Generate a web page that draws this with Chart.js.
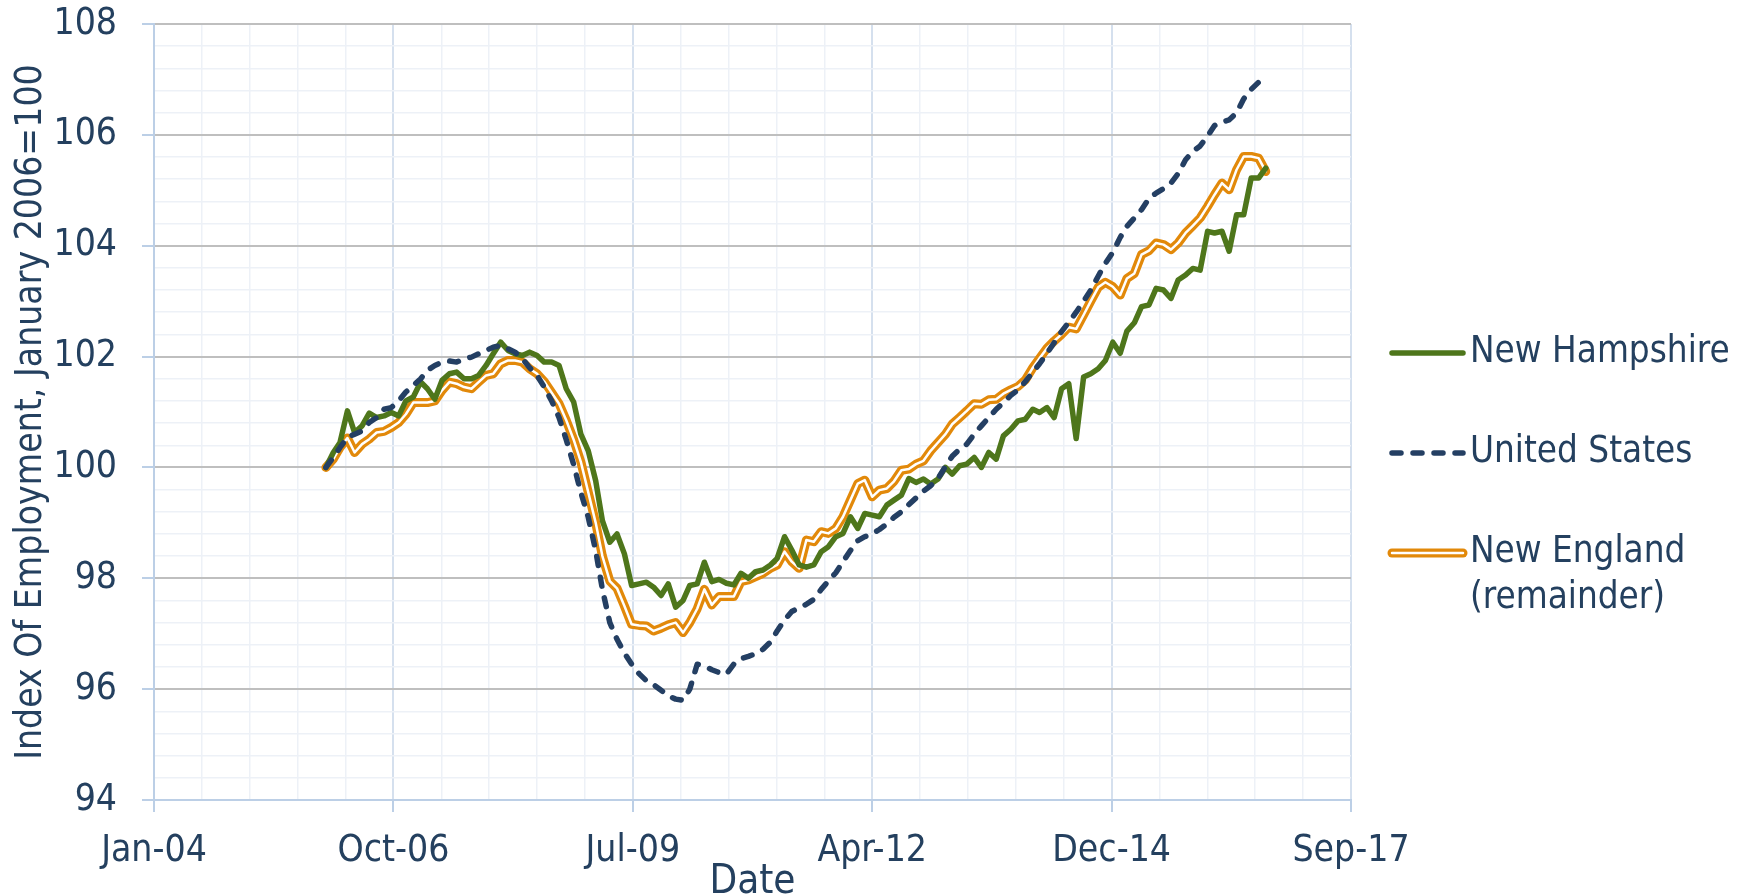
<!DOCTYPE html>
<html>
<head>
<meta charset="utf-8">
<title>Index of Employment</title>
<script src="https://cdn.jsdelivr.net/npm/chart.js@4.4.1/dist/chart.umd.min.js"></script>
<style>
  html, body { margin: 0; padding: 0; background: #fff; }
  #wrap { width: 1746px; height: 895px; position: relative; }
</style>
</head>
<body>
<div id="wrap"><canvas id="employment"></canvas></div>
<script>
// monthly index values, first point is Jan 2006 (=100)
const firstMonth = { year: 2006, month: 0 };

const newHampshire = [
  100.00, 100.27, 100.45, 101.02, 100.63, 100.75, 100.98, 100.90, 100.93, 100.99, 100.93, 101.20,
  101.27, 101.54, 101.42, 101.23, 101.57, 101.69, 101.72, 101.60, 101.60, 101.66, 101.84, 102.05,
  102.26, 102.11, 102.05, 102.02, 102.08, 102.02, 101.90, 101.90, 101.84, 101.42, 101.18, 100.60,
  100.30, 99.76, 99.04, 98.65, 98.80, 98.44, 97.87, 97.90, 97.93, 97.84, 97.69, 97.90,
  97.48, 97.60, 97.87, 97.90, 98.29, 97.94, 97.98, 97.91, 97.88, 98.09, 98.00, 98.12,
  98.15, 98.24, 98.36, 98.75, 98.51, 98.24, 98.20, 98.24, 98.48, 98.57, 98.75, 98.81,
  99.11, 98.90, 99.17, 99.14, 99.11, 99.32, 99.41, 99.50, 99.80, 99.73, 99.79, 99.70,
  99.79, 100.00, 99.88, 100.03, 100.06, 100.18, 100.00, 100.27, 100.15, 100.57, 100.69, 100.84,
  100.87, 101.05, 100.99, 101.08, 100.90, 101.42, 101.51, 100.52, 101.63, 101.69, 101.78, 101.93,
  102.26, 102.06, 102.46, 102.61, 102.90, 102.93, 103.23, 103.20, 103.05, 103.38, 103.47, 103.59,
  103.56, 104.26, 104.23, 104.26, 103.90, 104.56, 104.56, 105.22, 105.22, 105.40
];

const unitedStates = [
  100.00, 100.18, 100.36, 100.54, 100.60, 100.66, 100.81, 100.90, 101.05, 101.08, 101.20, 101.36,
  101.48, 101.60, 101.75, 101.84, 101.90, 101.92, 101.90, 101.96, 101.99, 102.05, 102.11, 102.17,
  102.20, 102.14, 102.08, 101.96, 101.80, 101.66, 101.45, 101.20, 100.90, 100.50, 100.05, 99.55,
  99.10, 98.50, 97.80, 97.20, 96.90, 96.65, 96.45, 96.28, 96.15, 96.08, 95.98, 95.88,
  95.82, 95.80, 96.00, 96.45, 96.42, 96.35, 96.30, 96.27, 96.45, 96.55, 96.59, 96.64,
  96.72, 96.85, 97.05, 97.25, 97.40, 97.47, 97.53, 97.62, 97.80, 97.95, 98.10, 98.30,
  98.50, 98.68, 98.75, 98.80, 98.88, 98.98, 99.10, 99.20, 99.33, 99.45, 99.57, 99.67,
  99.80, 100.02, 100.20, 100.33, 100.42, 100.60, 100.75, 100.90, 101.05, 101.17, 101.30, 101.40,
  101.55, 101.72, 101.87, 102.06, 102.25, 102.45, 102.62, 102.80, 103.00, 103.20, 103.45, 103.68,
  103.88, 104.15, 104.35, 104.50, 104.65, 104.85, 104.95, 105.03, 105.13, 105.30, 105.55, 105.70,
  105.80, 105.98, 106.17, 106.23, 106.27, 106.40, 106.65, 106.82, 106.95, 107.03
];

const newEngland = [
  100.00, 100.15, 100.36, 100.53, 100.27, 100.42, 100.51, 100.63, 100.65, 100.72, 100.81, 100.96,
  101.17, 101.17, 101.17, 101.20, 101.39, 101.54, 101.51, 101.45, 101.42, 101.54, 101.66, 101.69,
  101.87, 101.93, 101.93, 101.90, 101.78, 101.69, 101.55, 101.35, 101.15, 100.85, 100.50, 100.10,
  99.55, 99.00, 98.40, 97.95, 97.82, 97.50, 97.17, 97.15, 97.14, 97.05, 97.10, 97.16,
  97.20, 97.02, 97.20, 97.45, 97.80, 97.52, 97.67, 97.67, 97.67, 97.94, 97.97, 98.03,
  98.09, 98.18, 98.24, 98.48, 98.30, 98.18, 98.69, 98.66, 98.84, 98.81, 98.90, 99.11,
  99.41, 99.71, 99.77, 99.47, 99.59, 99.62, 99.75, 99.95, 99.97, 100.06, 100.12, 100.30,
  100.45, 100.60, 100.78, 100.90, 101.02, 101.15, 101.14, 101.22, 101.23, 101.33, 101.40, 101.46,
  101.58, 101.80, 101.97, 102.15, 102.28, 102.40, 102.53, 102.50, 102.75, 103.00, 103.25, 103.34,
  103.26, 103.11, 103.41, 103.50, 103.84, 103.91, 104.05, 104.02, 103.93, 104.05, 104.23, 104.36,
  104.50, 104.71, 104.92, 105.13, 105.01, 105.37, 105.61, 105.61, 105.58, 105.34
];

const seriesNames = ['New Hampshire', 'United States', ['New England', '(remainder)']];

// axes are Excel date serials, like the original workbook
const xMin = 38000, xMax = 43000, xMajor = 1000, xMinor = 200;
const yMin = 94, yMax = 108, yMajor = 2, yMinor = 0.4;

const textColor = '#24405F';
const axisColor = '#BCCFE6';
const fontFamily = "'DejaVu Sans Condensed', 'DejaVu Sans', sans-serif";
const monthNames = ['Jan','Feb','Mar','Apr','May','Jun','Jul','Aug','Sep','Oct','Nov','Dec'];
const excelEpoch = Date.UTC(1899, 11, 30);

const monthSerial = (i) => (Date.UTC(firstMonth.year, firstMonth.month + i, 1) - excelEpoch) / 864e5;
const toPoints = (values) => values.map((v, i) => ({ x: monthSerial(i), y: v }));
const serialLabel = (v) => {
    const d = new Date(excelEpoch + v * 864e5);
    return monthNames[d.getUTCMonth()] + '-' + String(d.getUTCFullYear()).slice(2);
};

let xTicks = [];
for (let v = xMin; v <= xMax; v += xMinor) xTicks.push(v);
let yTicks = [];
for (let k = 0; k <= Math.round((yMax - yMin) / yMinor); k++) yTicks.push(Math.round((yMin + k * yMinor) * 10) / 10);

const isMajorX = (v) => v % xMajor === 0;
const isMajorY = (v) => Math.abs(v / yMajor - Math.round(v / yMajor)) < 1e-6;

// legend on the right, drawn by hand so the double line and the two-line label look right
const sideLegend = {
    id: 'sideLegend',
    afterDraw(chart) {
        const { ctx, chartArea } = chart;
        const sets = chart.data.datasets;
        const x0 = chartArea.right + 41, x1 = x0 + 71;
        const items = [{ ds: 0 }, { ds: 1 }, { ds: 2, inner: 3 }];
        ctx.save();
        items.forEach((item, i) => {
            const y = chartArea.top + 329 + i * 100;
            const strokes = [sets[item.ds]];
            if (item.inner !== undefined) strokes.push(sets[item.inner]);
            strokes.forEach(ds => {
                ctx.beginPath();
                ctx.lineCap = 'round';
                ctx.strokeStyle = ds.borderColor;
                ctx.lineWidth = ds.borderWidth;
                ctx.setLineDash(ds.borderDash || []);
                ctx.moveTo(x0, y);
                ctx.lineTo(x1, y);
                ctx.stroke();
            });
            ctx.setLineDash([]);
            ctx.fillStyle = textColor;
            ctx.font = '36.5px ' + fontFamily;
            ctx.textBaseline = 'middle';
            ctx.textAlign = 'left';
            [].concat(seriesNames[i]).forEach((line, j) => ctx.fillText(line, x1 + 7, y + j * 46));
        });
        ctx.restore();
    }
};

const canvasContext = document.getElementById('employment').getContext('2d');
const employmentChart = new Chart(canvasContext, {
    type: 'line',
    data: {
        datasets: [
            { label: 'New Hampshire', data: toPoints(newHampshire), borderColor: '#4E761B', borderWidth: 5.5, order: 2 },
            { label: 'United States', data: toPoints(unitedStates), borderColor: '#243F63', borderWidth: 5.5, borderDash: [9, 12], order: 1 },
            { label: 'New England (remainder)', data: toPoints(newEngland), borderColor: '#E2890A', borderWidth: 9, order: 4 },
            { label: '', data: toPoints(newEngland), borderColor: '#FFFFFF', borderWidth: 2.5, order: 3 }
        ]
    },
    options: {
        responsive: true,
        maintainAspectRatio: false,
        animation: false,
        layout: { padding: { top: 24, right: 395, left: 0, bottom: 0 }, autoPadding: false },
        elements: {
            point: { radius: 0 },
            line: { tension: 0, borderCapStyle: 'round', borderJoinStyle: 'round', fill: false }
        },
        plugins: { legend: { display: false }, tooltip: { enabled: false } },
        scales: {
            x: {
                type: 'linear',
                min: xMin,
                max: xMax,
                afterBuildTicks: (scale) => { scale.ticks = xTicks.map(v => ({ value: v })); },
                afterFit: (scale) => { scale.height = 95; },
                ticks: {
                    autoSkip: false,
                    maxRotation: 0,
                    padding: 17,
                    color: textColor,
                    font: { family: fontFamily, size: 37 },
                    callback: (v) => isMajorX(v) ? serialLabel(v) : ''
                },
                grid: {
                    color: (c) => c.tick.value === xMin ? axisColor : (isMajorX(c.tick.value) ? '#D5E0EE' : '#EDF1F7'),
                    lineWidth: (c) => isMajorX(c.tick.value) ? 2 : 1.5,
                    tickColor: (c) => isMajorX(c.tick.value) ? axisColor : 'rgba(0,0,0,0)',
                    tickLength: 12,
                    tickWidth: 2
                },
                border: { color: axisColor, width: 2 },
                title: {
                    display: true,
                    text: 'Date',
                    color: textColor,
                    font: { family: fontFamily, size: 40, lineHeight: 0.6 },
                    padding: { top: 0, bottom: 0 }
                }
            },
            y: {
                type: 'linear',
                min: yMin,
                max: yMax,
                afterBuildTicks: (scale) => { scale.ticks = yTicks.map(v => ({ value: v })); },
                afterFit: (scale) => {
                    scale.width = 154;
                    scale.paddingTop = 0;
                    scale.paddingBottom = 0;
                },
                ticks: {
                    autoSkip: false,
                    padding: 25,
                    color: textColor,
                    font: { family: fontFamily, size: 37 },
                    callback: (v) => isMajorY(v) ? String(Math.round(v)) : ''
                },
                grid: {
                    color: (c) => c.tick.value === yMin ? axisColor : (isMajorY(c.tick.value) ? '#BFBFBF' : '#EDF1F7'),
                    lineWidth: (c) => isMajorY(c.tick.value) ? 2 : 1.5,
                    tickColor: (c) => isMajorY(c.tick.value) ? axisColor : 'rgba(0,0,0,0)',
                    tickLength: 12,
                    tickWidth: 2
                },
                border: { color: axisColor, width: 2 },
                title: {
                    display: true,
                    text: 'Index Of Employment, January 2006=100',
                    color: textColor,
                    font: { family: fontFamily, size: 37, lineHeight: 1 },
                    padding: { top: 13, bottom: 0 }
                }
            }
        }
    },
    plugins: [sideLegend]
});
</script>
</body>
</html>
